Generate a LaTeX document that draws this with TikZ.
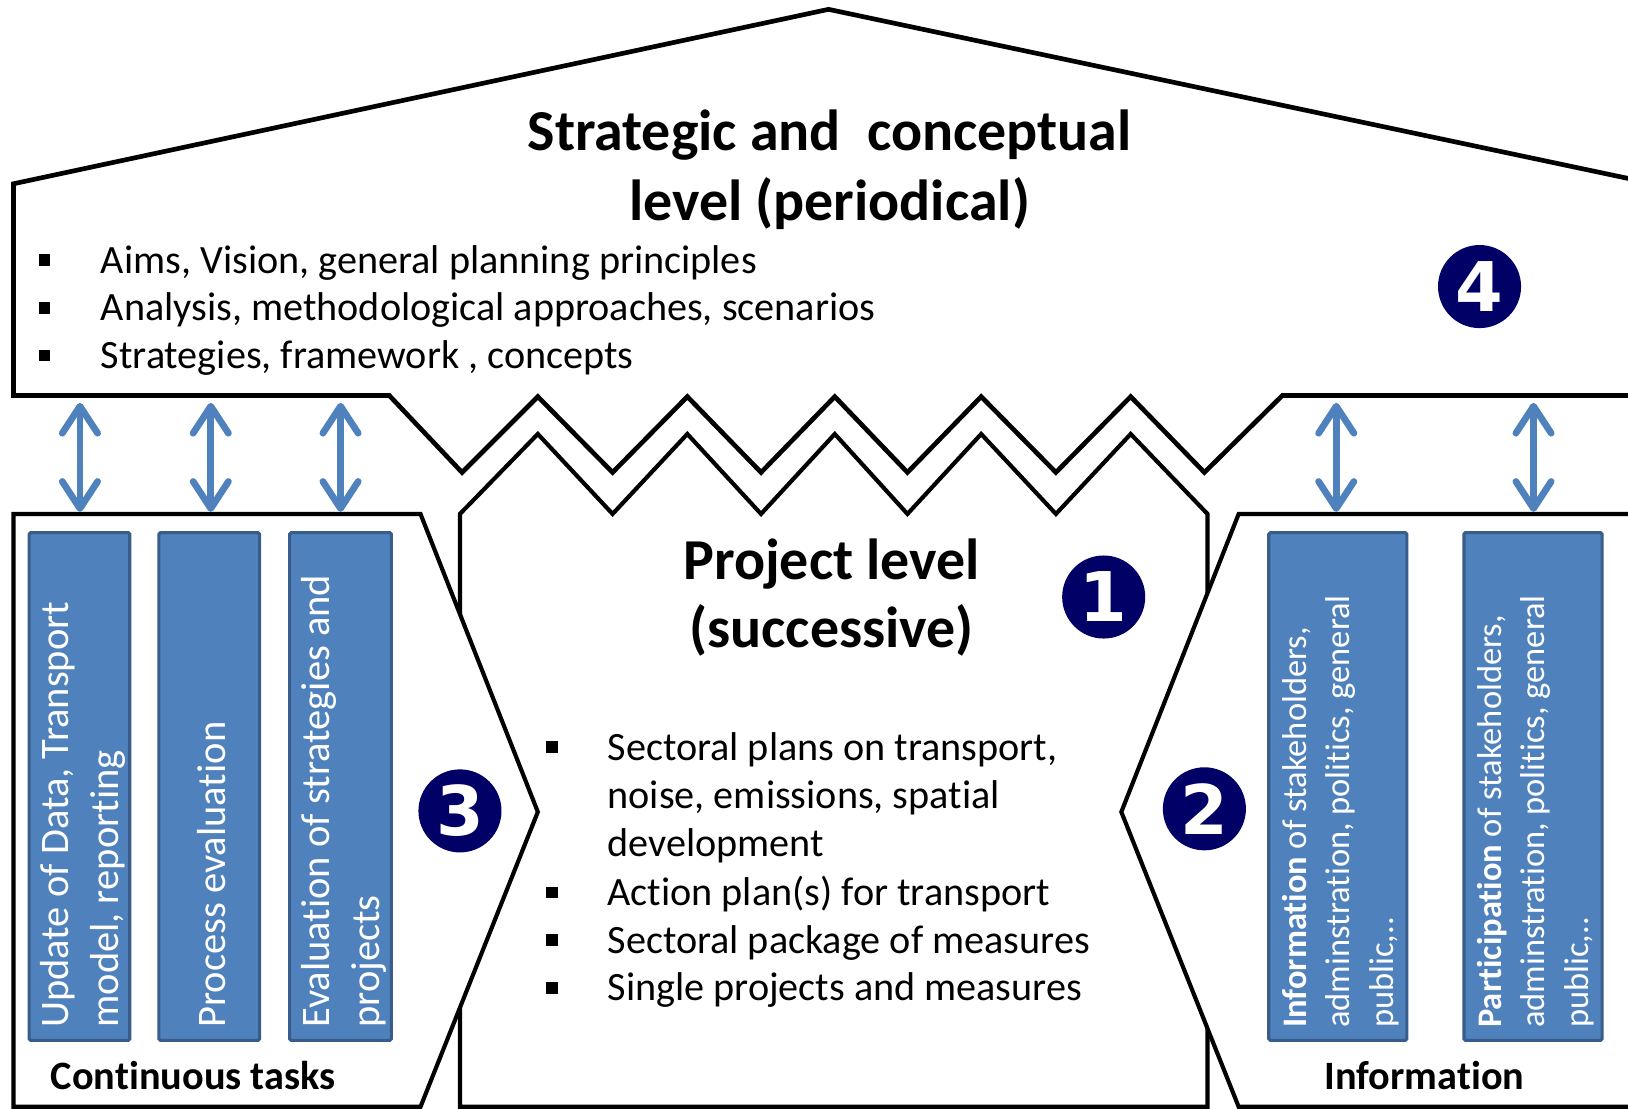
\documentclass[tikz,border=0pt]{standalone}
\usepackage{fontspec}
\setmainfont{Carlito}[Ligatures=CommonOff]
\newfontfamily\digitfont{DejaVu Sans}
\usetikzlibrary{arrows.meta}
\definecolor{barblue}{HTML}{4F81BD}
\definecolor{baredge}{HTML}{385D8A}
\definecolor{navy}{HTML}{000066}
\newcommand\sqbullet{\rule[7pt]{11pt}{11pt}}
\begin{document}
\begin{tikzpicture}[x=1pt,y=-1pt,
  roofline/.style={draw=black,line width=4.5pt,fill=white},
  wallline/.style={draw=black,line width=4pt,fill=white},
  taskbar/.style={draw=baredge,fill=barblue,line width=3pt,rounded corners=1.5pt},
  link/.style={draw=barblue,line width=6.5pt,
    {Straight Barb[length=26pt,width=34pt,round]}-{Straight Barb[length=26pt,width=34pt,round]}},
  bartext/.style={rotate=90,anchor=west,inner sep=0pt,align=left,text=white},
  bigtext/.style={font=\fontsize{38.7}{48}\selectfont,inner sep=0pt,anchor=base west},
  headtext/.style={font=\bfseries\fontsize{55.8}{67}\selectfont,inner sep=0pt,anchor=base},
  foottext/.style={font=\bfseries\fontsize{38.8}{44}\selectfont,inner sep=0pt,anchor=base},
  badge/.style={circle,fill=navy,minimum size=80pt,inner sep=0pt,text=white,
    font=\digitfont\bfseries\fontsize{66}{66}\selectfont}]
\useasboundingbox (0,0) rectangle (1568,1068);
\clip (0,0) rectangle (1568,1068);

% project level (centre body with zig-zag top)
\path[wallline] (443,1066) -- (443,495) -- (518,418) -- (590,495) -- (662,418)
  -- (733,495) -- (804,418) -- (874,495) -- (945,418) -- (1017,495)
  -- (1089,418) -- (1163,495) -- (1163,1066) -- cycle;

% side panels lie over the walls of the centre body
\path[wallline] (13,495) -- (405,495) -- (518,782) -- (405,1066) -- (13,1066) -- cycle;
\path[wallline] (1640,495) -- (1193,495) -- (1080,782) -- (1193,1066) -- (1640,1066);

% strategic level: the roof
\path[roofline] (375,381) -- (13,381) -- (13,177) -- (798,9) -- (1583,175)
  -- (1583,381) -- (1235,381) -- (1160,455) -- (1089,382) -- (1017,455)
  -- (945,382) -- (874,455) -- (804,382) -- (733,455) -- (662,382)
  -- (590,455) -- (518,382) -- (445,455) -- cycle;

% roof texts
\node[headtext] (title1) at (799,145) {Strategic and\ \ conceptual};
\node[headtext] (title2) at (799,212) {level (periodical)};
\node[bigtext] (s1) at (37,263) {\makebox[60pt][l]{\sqbullet}Aims, Vision, general planning principles};
\node[bigtext] (s2) at (37,309) {\makebox[60pt][l]{\sqbullet}Analysis, methodological approaches, scenarios};
\node[bigtext] (s3) at (37,355) {\makebox[60pt][l]{\sqbullet}Strategies, framework , concepts};

% project level texts
\node[headtext] (proj1) at (801,558) {Project level};
\node[headtext] (proj2) at (801,624) {(successive)};
\node[bigtext] (p1) at (526,732) {\makebox[59pt][l]{\sqbullet}Sectoral plans on transport,};
\node[bigtext] (p2) at (526,779) {\makebox[59pt][l]{}noise, emissions, spatial};
\node[bigtext] (p3) at (526,825) {\makebox[59pt][l]{}development};
\node[bigtext] (p4) at (526,872) {\makebox[59pt][l]{\sqbullet}Action plan(s) for transport};
\node[bigtext] (p5) at (526,918) {\makebox[59pt][l]{\sqbullet}Sectoral package of measures};
\node[bigtext] (p6) at (526,964) {\makebox[59pt][l]{\sqbullet}Single projects and measures};

% continuous tasks
\path[taskbar] (28,513) rectangle (125,1002);
\path[taskbar] (153,513) rectangle (250,1002);
\path[taskbar] (279,513) rectangle (377,1002);
\node[bartext,font=\fontsize{39}{48}\selectfont] (t1) at (80,990) {Update of Data, Transport\\model, reporting};
\node[bartext,font=\fontsize{39}{48}\selectfont] (t2) at (204,990) {Process evaluation};
\node[bartext,font=\fontsize{39}{48}\selectfont] (t3) at (331,990) {Evaluation of strategies and\\projects};
\node[foottext] (ct) at (186,1049) {Continuous tasks};

% information
\path[taskbar] (1222,513) rectangle (1355,1002);
\path[taskbar] (1410,513) rectangle (1543,1002);
\node[bartext,font=\fontsize{33.2}{42}\selectfont] (i1) at (1291,990) {\textbf{Information} of stakeholders,\\adminstration, politics, general\\public,..};
\node[bartext,font=\fontsize{33.2}{42}\selectfont] (i2) at (1479,990) {\textbf{Participation} of stakeholders,\\adminstration, politics, general\\public,..};
\node[foottext] (inf) at (1372,1049) {Information};

% links between the levels
\coordinate (a1t) at (77,388);  \coordinate (a1b) at (77,493);
\coordinate (a2t) at (203,388); \coordinate (a2b) at (203,493);
\coordinate (a3t) at (328,388); \coordinate (a3b) at (328,493);
\coordinate (a4t) at (1287,388); \coordinate (a4b) at (1287,493);
\coordinate (a5t) at (1477,388); \coordinate (a5b) at (1477,493);
\foreach \n in {1,...,5} \draw[link] (a\n t) -- (a\n b);

% numbered badges
\node[badge] (n4) at (1425,276) {4};
\node[badge] (n1) at (1063,575) {1};
\node[badge] (n3) at (443,781) {3};
\node[badge] (n2) at (1160,779) {2};
\end{tikzpicture}
\end{document}
